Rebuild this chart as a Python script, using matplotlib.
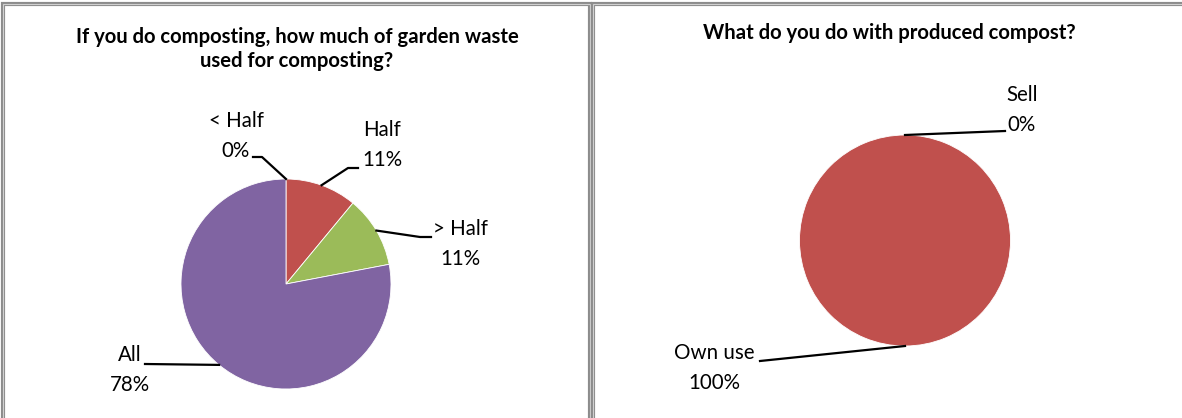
import matplotlib
matplotlib.use('Agg')
import matplotlib.pyplot as plt
import numpy as np
from matplotlib.patches import Rectangle

plt.rcParams['font.family'] = ['Lato', 'DejaVu Sans']

# data
waste_title = 'If you do composting, how much of garden waste\nused for composting?'
waste_labels = ['< Half', 'Half', '> Half', 'All']
waste_values = [0, 11, 11, 78]

use_title = 'What do you do with produced compost?'
use_labels = ['Sell', 'Own use']
use_values = [0, 100]

colors = ['#4F81BD', '#C0504D', '#9BBB59', '#8064A2']

W, H = 1182, 418
fig = plt.figure(figsize=(W / 100, H / 100), dpi=100)


def draw_pie(cx, cy, r, values, labels, label_pos, elbows):
    # axes sized in pixels so the pie lands where it should
    ax = fig.add_axes([(cx - r) / W, (H - cy - r) / H, 2 * r / W, 2 * r / H])
    wedges, _ = ax.pie(values, colors=colors[:len(values)], startangle=90,
                       counterclock=False, radius=1,
                       wedgeprops=dict(edgecolor='white', linewidth=0.6))
    ax.set_xlim(-1, 1)
    ax.set_ylim(-1, 1)
    ax.set_aspect('equal')
    ax.axis('off')
    total = sum(values)
    for w, name, v, (lx, ly), pts in zip(wedges, labels, values, label_pos, elbows):
        mid = np.deg2rad((w.theta1 + w.theta2) / 2)
        xs = [np.cos(mid)] + [(px - cx) / r for px, py in pts]
        ys = [np.sin(mid)] + [(cy - py) / r for px, py in pts]
        ax.plot(xs, ys, color='black', lw=1.6, clip_on=False)
        ax.text((lx - cx) / r, (cy - ly) / r, f'{name}\n{round(100 * v / total)}%',
                ha='center', va='center', fontsize=14.8, linespacing=1.65,
                clip_on=False)
    return ax


draw_pie(286, 284, 105, waste_values, waste_labels,
         [(236, 136), (382, 145), (460, 244), (130, 370)],
         [[(262, 157), (253, 157)], [(348, 168), (358, 168)],
          [(420, 237), (431, 237)], [(145, 364)]])

draw_pie(905, 240.5, 105.5, use_values, use_labels,
         [(1022, 110), (714, 368)],
         [[(1005, 131)], [(760, 361)]])

fig.text(297 / W, 1 - 49 / H, waste_title, ha='center', va='center',
         fontsize=14.6, fontweight='bold', linespacing=1.25)
fig.text(889 / W, 1 - 33 / H, use_title, ha='center', va='center',
         fontsize=14.6, fontweight='bold')

# panel frames (double grey line)
for x0, x1 in [(3, 590), (593, 1186)]:
    for col, lw in [('#8c8c8c', 3.0), ('#d0d0d0', 0.8)]:
        fig.add_artist(Rectangle((x0 / W, -0.05), (x1 - x0) / W, (H - 4) / H + 0.05,
                                 transform=fig.transFigure, fill=False,
                                 edgecolor=col, lw=lw))

fig.savefig('out.png', dpi=100)
